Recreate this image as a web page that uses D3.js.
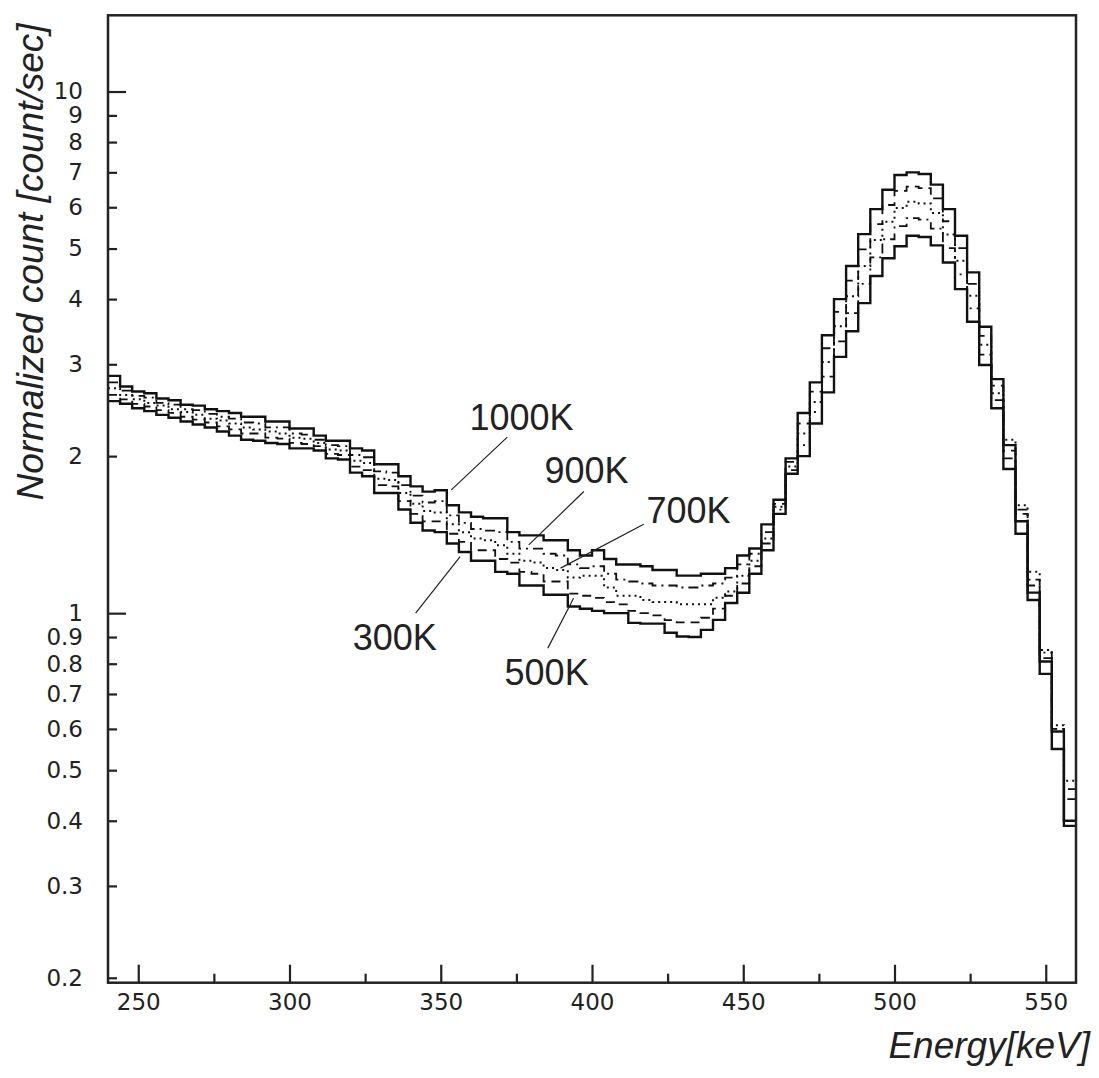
<!DOCTYPE html>
<html>
<head>
<meta charset="utf-8">
<script src="https://cdn.jsdelivr.net/npm/d3@7"></script>
<style>
    body { margin: 0; background: #fff; }
    #chart { width: 1099px; height: 1078px; }
    .tick text { font-family: "DejaVu Sans", sans-serif; fill: #222; }
    .axis-title { font-family: "Liberation Sans", Arial, sans-serif; font-style: italic; fill: #222; }
    .curve-label { font-family: "Liberation Sans", Arial, sans-serif; fill: #222; }
</style>
</head>
<body>
<div id="chart"></div>
<script>

// bins of 4 keV, left edges from 240 to 556
let binStart = d3.range(240, 560, 4);
let xLimits = [240, 560];
let yLimits = [0.1957, 14.0];

let temps = ["1000K", "900K", "700K", "500K", "300K"];

let k1000 = [2.85, 2.72, 2.66, 2.64, 2.58, 2.56, 2.51, 2.50, 2.46, 2.44,
    2.42, 2.38, 2.38, 2.33, 2.33, 2.26, 2.26, 2.19, 2.14, 2.14,
    2.07, 2.05, 1.93, 1.93, 1.83, 1.75, 1.71, 1.72, 1.61, 1.56,
    1.53, 1.52, 1.52, 1.43, 1.41, 1.41, 1.38, 1.38, 1.32, 1.29,
    1.32, 1.27, 1.24, 1.24, 1.23, 1.21, 1.21, 1.18, 1.18, 1.19,
    1.19, 1.22, 1.29, 1.33, 1.48, 1.55, 1.85, 2.00, 2.31, 2.65,
    3.10, 3.47, 3.93, 4.43, 4.79, 5.05, 5.29, 5.26, 5.07, 4.70,
    4.18, 3.62, 2.99, 2.47, 1.89, 1.42, 1.06, 0.765, 0.549, 0.391];

let k900 = [2.77, 2.67, 2.61, 2.59, 2.53, 2.51, 2.46, 2.45, 2.41, 2.38,
    2.36, 2.32, 2.31, 2.27, 2.27, 2.21, 2.20, 2.15, 2.10, 2.09,
    2.01, 1.99, 1.87, 1.86, 1.76, 1.68, 1.63, 1.64, 1.54, 1.49,
    1.45, 1.44, 1.43, 1.37, 1.33, 1.33, 1.30, 1.29, 1.24, 1.22,
    1.23, 1.19, 1.16, 1.15, 1.14, 1.13, 1.13, 1.12, 1.12, 1.13,
    1.14, 1.17, 1.24, 1.30, 1.43, 1.58, 1.88, 2.10, 2.43, 2.84,
    3.32, 3.76, 4.28, 4.81, 5.21, 5.52, 5.72, 5.68, 5.46, 5.01,
    4.46, 3.84, 3.13, 2.56, 1.98, 1.58, 1.16, 0.84, 0.60, 0.46];

let k700 = [2.70, 2.62, 2.57, 2.53, 2.50, 2.46, 2.43, 2.40, 2.36, 2.34,
    2.31, 2.27, 2.25, 2.23, 2.21, 2.17, 2.16, 2.12, 2.06, 2.05,
    1.96, 1.94, 1.81, 1.80, 1.70, 1.62, 1.57, 1.56, 1.48, 1.43,
    1.39, 1.38, 1.35, 1.30, 1.26, 1.25, 1.22, 1.21, 1.17, 1.18,
    1.18, 1.12, 1.08, 1.08, 1.06, 1.05, 1.05, 1.04, 1.04, 1.04,
    1.07, 1.10, 1.18, 1.26, 1.39, 1.60, 1.91, 2.21, 2.54, 3.03,
    3.55, 4.05, 4.63, 5.19, 5.63, 5.98, 6.15, 6.10, 5.85, 5.32,
    4.74, 4.06, 3.27, 2.64, 2.15, 1.61, 1.20, 0.85, 0.61, 0.477];

let k500 = [2.62, 2.57, 2.52, 2.49, 2.45, 2.42, 2.38, 2.35, 2.32, 2.28,
    2.25, 2.21, 2.21, 2.17, 2.16, 2.12, 2.11, 2.09, 2.02, 2.01,
    1.91, 1.88, 1.76, 1.75, 1.64, 1.55, 1.50, 1.50, 1.42, 1.37,
    1.32, 1.32, 1.27, 1.25, 1.20, 1.19, 1.15, 1.15, 1.09, 1.08,
    1.07, 1.05, 1.04, 1.01, 1.00, 0.99, 0.97, 0.96, 0.96, 0.98,
    1.02, 1.08, 1.14, 1.23, 1.36, 1.62, 1.95, 2.31, 2.66, 3.22,
    3.78, 4.34, 4.98, 5.57, 6.06, 6.45, 6.57, 6.53, 6.24, 5.64,
    5.01, 4.28, 3.40, 2.73, 2.05, 1.55, 1.13, 0.82, 0.60, 0.44];

let k300 = [2.55, 2.52, 2.47, 2.44, 2.40, 2.37, 2.33, 2.30, 2.27, 2.23,
    2.19, 2.15, 2.14, 2.12, 2.11, 2.07, 2.07, 2.05, 1.98, 1.97,
    1.86, 1.83, 1.70, 1.70, 1.58, 1.49, 1.44, 1.43, 1.36, 1.31,
    1.26, 1.26, 1.20, 1.19, 1.13, 1.13, 1.085, 1.085, 1.03, 1.02,
    1.01, 1.00, 1.00, 0.958, 0.955, 0.955, 0.917, 0.902, 0.900, 0.929,
    0.971, 1.046, 1.094, 1.19, 1.32, 1.65, 1.98, 2.42, 2.77, 3.41,
    4.00, 4.63, 5.33, 5.95, 6.48, 6.92, 7.00, 6.95, 6.63, 5.95,
    5.29, 4.50, 3.54, 2.81, 2.10, 1.50, 1.095, 0.808, 0.593, 0.400];

// tick values
let xMajorTicks = [250, 300, 350, 400, 450, 500, 550];
let xMinorTicks = [275, 325, 375, 425, 475, 525];
let yTicks = [0.2, 0.3, 0.4, 0.5, 0.6, 0.7, 0.8, 0.9, 1, 2, 3, 4, 5, 6, 7, 8, 9, 10];
let yMajorTicks = [1, 10];
let yTickLabels = ["0.2", "0.3", "0.4", "0.5", "0.6", "0.7", "0.8", "0.9", "1",
    "2", "3", "4", "5", "6", "7", "8", "9", "10"];

// curve annotations, in data units (keV, count/sec)
let labelPos = [[359.5, 2.245], [384.3, 1.778], [418.0, 1.488], [371.1, 0.729], [320.9, 0.850]];
let pointerFrom = [[372.0, 2.175], [397.3, 1.711], [417.1, 1.481], [385.4, 0.857], [341.7, 1.0]];
let pointerTo = [[353.5, 1.723], [379.1, 1.352], [389.6, 1.22], [393.9, 1.068], [356.4, 1.284]];


class SpectrumVis {

    constructor(parentElement) {
        this.parentElement = parentElement;
        this.series = [
            {name: "900K", values: k900, dash: "10,5,2,5", width: 1.8},
            {name: "700K", values: k700, dash: "2,4", width: 2},
            {name: "500K", values: k500, dash: "9,6", width: 1.8},
            {name: "1000K", values: k1000, dash: null, width: 2.4},
            {name: "300K", values: k300, dash: null, width: 2.4}
        ];
        this.initVis();
    }

    initVis() {
        let vis = this;

        vis.margin = {top: 15.3, left: 108, right: 1099 - 1076, bottom: 1078 - 982.7};
        vis.width = 1099 - vis.margin.left - vis.margin.right;
        vis.height = 1078 - vis.margin.top - vis.margin.bottom;

        vis.svg = d3.select("#" + vis.parentElement).append("svg")
            .attr("width", 1099)
            .attr("height", 1078)
            .append("g")
            .attr("transform", `translate(${vis.margin.left}, ${vis.margin.top})`);

        vis.x = d3.scaleLinear().domain(xLimits).range([0, vis.width]);
        vis.y = d3.scaleLog().domain(yLimits).range([vis.height, 0]);

        vis.svg.append("defs").append("clipPath").attr("id", "plot-clip")
            .append("rect").attr("width", vis.width).attr("height", vis.height);

        vis.drawAxes();
        vis.drawCurves();
        vis.drawLabels();

        // frame on top
        vis.svg.append("rect")
            .attr("width", vis.width)
            .attr("height", vis.height)
            .attr("fill", "none")
            .attr("stroke", "#222")
            .attr("stroke-width", 2.5);
    }

    drawAxes() {
        let vis = this;

        // x axis: ticks point inward
        let xMajor = d3.axisBottom(vis.x).tickValues(xMajorTicks).tickSize(-18).tickPadding(11)
            .tickFormat(d3.format("d"));
        let xMinor = d3.axisBottom(vis.x).tickValues(xMinorTicks).tickSize(-9).tickFormat("");

        vis.svg.append("g").attr("class", "x-axis")
            .attr("transform", `translate(0, ${vis.height})`)
            .call(xMajor)
            .call(g => g.selectAll("text").style("font-size", "23px"));
        vis.svg.append("g").attr("class", "x-axis-minor")
            .attr("transform", `translate(0, ${vis.height})`)
            .call(xMinor);

        // y axis, log
        let yAxis = d3.axisLeft(vis.y).tickValues(yTicks).tickSize(-9).tickPadding(25)
            .tickFormat((d, i) => yTickLabels[i]);

        vis.svg.append("g").attr("class", "y-axis")
            .call(yAxis)
            .call(g => g.selectAll("text").style("font-size", "23px"))
            .call(g => g.selectAll(".tick line")
                .attr("x2", d => yMajorTicks.includes(d) ? 18 : 9));

        vis.svg.selectAll(".domain").remove();
        vis.svg.selectAll(".tick line").attr("stroke", "#222").attr("stroke-width", 2.2);

        // axis titles
        vis.svg.append("text")
            .attr("class", "axis-title")
            .attr("text-anchor", "end")
            .attr("x", 1090 - vis.margin.left)
            .attr("y", 1058 - vis.margin.top)
            .style("font-size", "37px")
            .text("Energy[keV]");

        vis.svg.append("text")
            .attr("class", "axis-title")
            .attr("text-anchor", "middle")
            .attr("transform", `translate(${43 - vis.margin.left}, ${262 - vis.margin.top}) rotate(-90)`)
            .style("font-size", "37px")
            .text("Normalized count [count/sec]");
    }

    drawCurves() {
        let vis = this;

        let line = d3.line()
            .x(d => vis.x(d[0]))
            .y(d => vis.y(d[1]))
            .curve(d3.curveStepAfter);

        vis.series.forEach(s => {
            // histogram points at bin edges, closed at the upper limit
            let pts = binStart.map((b, i) => [b, s.values[i]]);
            pts.push([xLimits[1], s.values[s.values.length - 1]]);

            vis.svg.append("path")
                .datum(pts)
                .attr("class", "curve")
                .attr("clip-path", "url(#plot-clip)")
                .attr("fill", "none")
                .attr("stroke", "#111")
                .attr("stroke-width", s.width)
                .attr("stroke-dasharray", s.dash)
                .attr("d", line);
        });
    }

    drawLabels() {
        let vis = this;

        temps.forEach((t, i) => {
            vis.svg.append("line")
                .attr("x1", vis.x(pointerFrom[i][0]))
                .attr("y1", vis.y(pointerFrom[i][1]))
                .attr("x2", vis.x(pointerTo[i][0]))
                .attr("y2", vis.y(pointerTo[i][1]))
                .attr("stroke", "#222")
                .attr("stroke-width", 1.2);

            vis.svg.append("text")
                .attr("class", "curve-label")
                .attr("x", vis.x(labelPos[i][0]))
                .attr("y", vis.y(labelPos[i][1]))
                .style("font-size", "36px")
                .text(t);
        });
    }
}

let spectrumVis = new SpectrumVis("chart");

</script>
</body>
</html>
